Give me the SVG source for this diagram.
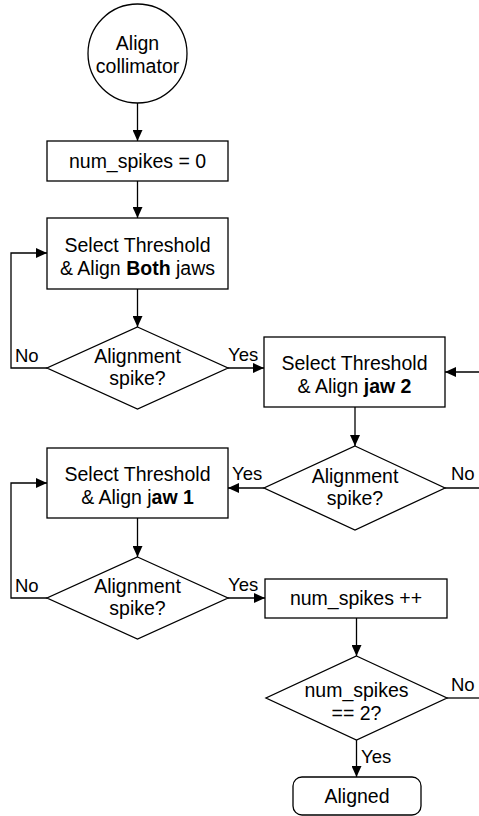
<svg xmlns="http://www.w3.org/2000/svg" width="479" height="816" viewBox="0 0 479 816">
<style>
.s{fill:#fff;stroke:#000;stroke-width:1.3}
.t{font-family:"Liberation Sans",Arial,sans-serif;font-size:19.5px;fill:#000;text-anchor:middle}
.l{font-family:"Liberation Sans",Arial,sans-serif;font-size:18.5px;fill:#000}
.c{fill:none;stroke:#000;stroke-width:1.3}
.b{font-weight:bold}
</style>
<defs>
<marker id="ah" markerUnits="userSpaceOnUse" markerWidth="12" markerHeight="10" refX="11" refY="5" orient="auto">
<path d="M0,0 L11,5 L0,10 Z" fill="#000"/>
</marker>
</defs>
<rect width="479" height="816" fill="#fff"/>
<g id="connectors">
<path class="c" d="M137.5,103 V141" marker-end="url(#ah)"/>
<path class="c" d="M137.5,181 V218" marker-end="url(#ah)"/>
<path class="c" d="M137.5,289 V327" marker-end="url(#ah)"/>
<path class="c" d="M47,368 H11 V253 H47" marker-end="url(#ah)"/>
<path class="c" d="M228,368 H264" marker-end="url(#ah)"/>
<path class="c" d="M479,372 H445" marker-end="url(#ah)"/>
<path class="c" d="M355,407 V446" marker-end="url(#ah)"/>
<path class="c" d="M264,488 H228" marker-end="url(#ah)"/>
<path class="c" d="M445,488 H479"/>
<path class="c" d="M137.5,518 V557" marker-end="url(#ah)"/>
<path class="c" d="M47,598 H11 V483 H47" marker-end="url(#ah)"/>
<path class="c" d="M228,598 H265" marker-end="url(#ah)"/>
<path class="c" d="M356.5,618 V656" marker-end="url(#ah)"/>
<path class="c" d="M447,698 H479"/>
<path class="c" d="M356.5,739 V777" marker-end="url(#ah)"/>
<text class="l" x="15" y="362">No</text>
<text class="l" x="228" y="361">Yes</text>
<text class="l" x="232" y="480">Yes</text>
<text class="l" x="451" y="480">No</text>
<text class="l" x="15" y="592">No</text>
<text class="l" x="228" y="591">Yes</text>
<text class="l" x="451" y="691">No</text>
<text class="l" x="361" y="763">Yes</text>
</g>
<g id="start">
<circle class="s" cx="137.5" cy="53.5" r="49.5"/>
<text class="t" x="137.5" y="50">Align</text>
<text class="t" x="137.5" y="73">collimator</text>
</g>
<g id="init">
<rect class="s" x="47" y="141" width="181" height="40"/>
<text class="t" x="137.5" y="168">num_spikes = 0</text>
</g>
<g id="alignBoth">
<rect class="s" x="47" y="218" width="181" height="71"/>
<text class="t" x="137.5" y="252">Select Threshold</text>
<text class="t" x="137.5" y="275">&amp; Align <tspan class="b">Both</tspan> jaws</text>
</g>
<g id="spike1">
<polygon class="s" points="137.5,327 228,368 137.5,409 47,368"/>
<text class="t" x="137.5" y="363">Alignment</text>
<text class="t" x="137.5" y="385">spike?</text>
</g>
<g id="alignJaw2">
<rect class="s" x="264" y="337" width="181" height="70"/>
<text class="t" x="354.5" y="370">Select Threshold</text>
<text class="t" x="354.5" y="393">&amp; Align <tspan class="b">jaw 2</tspan></text>
</g>
<g id="spike2">
<polygon class="s" points="355,446 445,488 355,530 264,488"/>
<text class="t" x="355" y="483">Alignment</text>
<text class="t" x="355" y="505">spike?</text>
</g>
<g id="alignJaw1">
<rect class="s" x="47" y="448" width="181" height="70"/>
<text class="t" x="137.5" y="481">Select Threshold</text>
<text class="t" x="137.5" y="504">&amp; Align j<tspan class="b">aw 1</tspan></text>
</g>
<g id="spike3">
<polygon class="s" points="137.5,557 228,598 137.5,639 47,598"/>
<text class="t" x="137.5" y="593">Alignment</text>
<text class="t" x="137.5" y="615">spike?</text>
</g>
<g id="increment">
<rect class="s" x="265" y="579" width="182" height="39"/>
<text class="t" x="356" y="605">num_spikes ++</text>
</g>
<g id="check">
<polygon class="s" points="356.5,656 447,698 356.5,740 266,698"/>
<text class="t" x="356.5" y="697">num_spikes</text>
<text class="t" x="356.5" y="720">== 2?</text>
</g>
<g id="end">
<rect class="s" x="293" y="777" width="128" height="38" rx="9"/>
<text class="t" x="357" y="803">Aligned</text>
</g>
</svg>
